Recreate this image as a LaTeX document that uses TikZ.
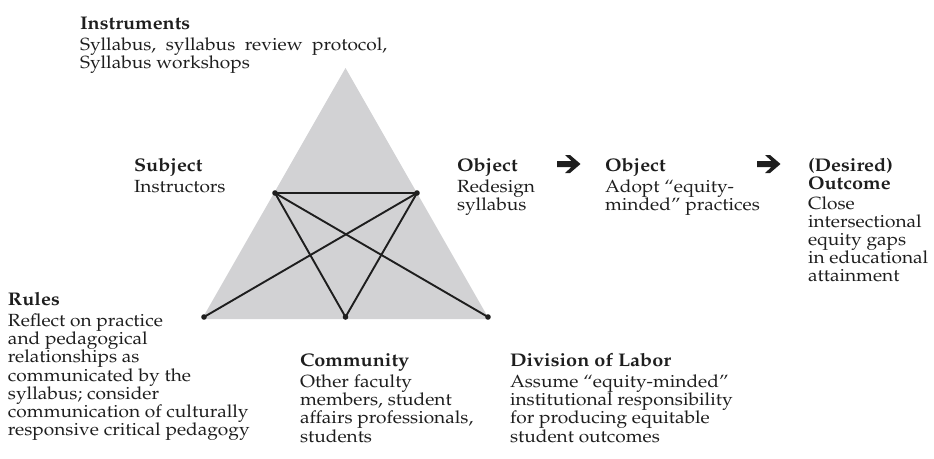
\documentclass[tikz,border=0pt]{standalone}
\usepackage{graphicx}
\IfFileExists{mathpazo.sty}{%
  \usepackage[T1]{fontenc}\usepackage{mathpazo}%
}{%
  \usepackage{fontspec}\setmainfont{Liberation Serif}%
}
\definecolor{trigray}{RGB}{210,210,212}
\definecolor{inkc}{RGB}{30,30,30}
\newcommand{\bodyfont}{\fontsize{17.6}{18}\selectfont}
\newcommand{\ttlfont}{\fontsize{18.3}{18}\selectfont\bfseries}
\newcommand{\wide}[1]{\scalebox{1.085}[1]{#1}}
\newcommand{\blk}[2]{\wide{\bodyfont\begin{tabular}[t]{@{}l@{}}#1\\[3.5pt]#2\end{tabular}}}
\tikzset{
  lbl/.style={anchor=base west, inner sep=0pt, outer sep=0pt, text=inkc},
  edge/.style={line width=1.9pt, draw=inkc, line cap=round},
  dotc/.style={fill=inkc},
  bigarrow/.style={fill=inkc, draw=none}
}
\begin{document}
\begin{tikzpicture}[x=1pt,y=-1pt]
\useasboundingbox (0,0) rectangle (934,458);
% triangle
\coordinate (apex) at (345.5,68);
\coordinate (bl) at (202,319);
\coordinate (br) at (489,319);
\fill[trigray] (apex) -- (bl) -- (br) -- cycle;
% dots
\coordinate (ul) at (275,193);
\coordinate (ur) at (417,193);
\coordinate (bm) at (345.5,317);
\coordinate (dl) at (204,317);
\coordinate (dr) at (488,317);
\draw[edge] (ul) -- (ur);
\draw[edge] (ul) -- (bm);
\draw[edge] (ul) -- (dr);
\draw[edge] (ur) -- (dl);
\draw[edge] (ur) -- (bm);
\foreach \p in {ul,ur,bm,dl,dr} \fill[dotc] (\p) circle (2.8);
% text blocks
\node[lbl] (instr) at (80,29) {\blk{\ttlfont Instruments}{Syllabus,\ \ syllabus\ \ review\ \ protocol,\\Syllabus workshops}};
\node[lbl] (subj) at (134,171) {\blk{\ttlfont Subject}{Instructors}};
\node[lbl] (obj1) at (457,171) {\blk{\ttlfont Object}{Redesign\\syllabus}};
\node[lbl] (obj2) at (605,171) {\blk{\ttlfont Object}{Adopt ``equity-\\minded'' practices}};
\node[lbl] (outc) at (808,171) {\wide{\bodyfont\begin{tabular}[t]{@{}l@{}}\ttlfont (Desired)\\\ttlfont Outcome\\[2pt]Close\\intersectional\\equity gaps\\in educational\\attainment\end{tabular}}};
\node[lbl] (rules) at (8,305) {\blk{\ttlfont Rules}{Reflect on practice\\and pedagogical\\relationships as\\communicated by the\\syllabus; consider\\communication of culturally\\responsive critical pedagogy}};
\node[lbl] (comm) at (300,366) {\blk{\ttlfont Community}{Other faculty\\members, student\\affairs professionals,\\students}};
\node[lbl] (div) at (510,366) {\blk{\ttlfont Division\ of\ Labor}{Assume ``equity-minded''\\institutional responsibility\\for producing equitable\\student outcomes}};
% heavy arrows
\foreach \ax in {557,757}{
  \fill[bigarrow, shift={(\ax,164)}] (0,-3) -- (14.5,-3) -- (8,-9) -- (13,-9) -- (23.5,0) -- (13,9) -- (8,9) -- (14.5,3) -- (0,3) -- cycle;
}
\end{tikzpicture}
\end{document}
